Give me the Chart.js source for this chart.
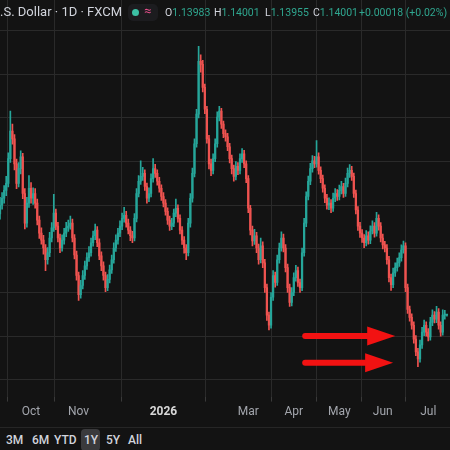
<!DOCTYPE html>
<html>
<head>
<meta charset="utf-8">
<script src="https://cdn.jsdelivr.net/npm/chart.js@4.4.1/dist/chart.umd.min.js"></script>
<style>
  html, body { margin: 0; padding: 0; background: #131313; }
  #wrap { position: relative; width: 450px; height: 450px; overflow: hidden; background: #131313; font-family: Roboto, 'Noto Sans', sans-serif; }
  #box { position: absolute; left: 0; top: 0; width: 450px; height: 427px; }
  #head { position: absolute; left: 0; top: 4px; height: 20px; width: 450px; white-space: nowrap; color: #d1d4dc; }
  #head .t { font-size: 13px; position: absolute; left: 0; top: 0; }
  #head .pill { position: absolute; left: 128px; top: 0px; width: 30px; height: 17px; border-radius: 5px; background: #1c1c1f; }
  #head .dot { position: absolute; left: 132px; top: 5px; width: 7px; height: 7px; border-radius: 50%; background: #3cc0a4; }
  #head .eq { position: absolute; left: 144px; top: -1px; font-size: 13px; color: #e8508c; }
  #head .v { position: absolute; top: 2px; font-size: 10.5px; color: #2fa68f; }
  #head .v b { color: #d1d4dc; font-weight: normal; }
  #sep { position: absolute; left: 0; top: 427px; width: 450px; height: 1px; background: #262626; }
  #btns { position: absolute; left: 0; top: 429px; height: 21px; width: 450px; font-size: 12px; font-weight: 500; color: #d1d4dc; }
  #btns span { position: absolute; top: 4px; }
  #btns .on { position: absolute; left: 81px; top: 0; width: 19px; height: 22px; background: #3a3a3c; border-radius: 4px; }
</style>
</head>
<body>
<div id="wrap">
  <div id="box"><canvas id="chart"></canvas></div>
  <div id="head">
    <span class="t">.S. Dollar · 1D · FXCM</span>
    <span class="pill"></span>
    <span class="dot"></span>
    <span class="eq">≈</span>
    <span class="v" style="left:165px"><b>O</b>1.13983</span>
    <span class="v" style="left:214px"><b>H</b>1.14001</span>
    <span class="v" style="left:265px"><b>L</b>1.13955</span>
    <span class="v" style="left:313px"><b>C</b>1.14001</span>
    <span class="v" style="left:359px">+0.00018 (+0.02%)</span>
  </div>
  <div id="sep"></div>
  <div id="btns">
    <div class="on"></div>
    <span style="left:6px">3M</span>
    <span style="left:32px">6M</span>
    <span style="left:54px">YTD</span>
    <span style="left:84px">1Y</span>
    <span style="left:106px">5Y</span>
    <span style="left:128px">All</span>
  </div>
</div>
<script>
// daily candles, mid Sep -> mid Jul
const opens = [
  1.1630, 1.1650, 1.1666, 1.1684, 1.1700, 1.1757, 1.1820, 1.1802, 1.1745, 1.1700,
  1.1734, 1.1761, 1.1677, 1.1609, 1.1655, 1.1689, 1.1666, 1.1677, 1.1655, 1.1616,
  1.1586, 1.1570, 1.1552, 1.1525, 1.1541, 1.1575, 1.1598, 1.1632, 1.1602, 1.1575,
  1.1552, 1.1570, 1.1586, 1.1598, 1.1602, 1.1609, 1.1575, 1.1536, 1.1489, 1.1445,
  1.1466, 1.1489, 1.1511, 1.1530, 1.1541, 1.1564, 1.1580, 1.1593, 1.1564, 1.1534,
  1.1511, 1.1489, 1.1461, 1.1480, 1.1502, 1.1525, 1.1552, 1.1570, 1.1586, 1.1602,
  1.1620, 1.1627, 1.1609, 1.1593, 1.1580, 1.1575, 1.1620, 1.1677, 1.1705, 1.1716,
  1.1723, 1.1693, 1.1666, 1.1677, 1.1711, 1.1734, 1.1723, 1.1705, 1.1689, 1.1670,
  1.1655, 1.1636, 1.1616, 1.1602, 1.1609, 1.1632, 1.1643, 1.1620, 1.1593, 1.1570,
  1.1552, 1.1541, 1.1609, 1.1666, 1.1723, 1.1791, 1.1859, 1.1980, 1.1973, 1.1920,
  1.1870, 1.1802, 1.1745, 1.1730, 1.1757, 1.1791, 1.1852, 1.1866, 1.1836, 1.1814,
  1.1807, 1.1784, 1.1757, 1.1734, 1.1716, 1.1739, 1.1730, 1.1757, 1.1768, 1.1745,
  1.1711, 1.1643, 1.1593, 1.1568, 1.1580, 1.1552, 1.1525, 1.1557, 1.1518, 1.1461,
  1.1398, 1.1375, 1.1439, 1.1489, 1.1473, 1.1525, 1.1552, 1.1575, 1.1552, 1.1507,
  1.1461, 1.1427, 1.1450, 1.1484, 1.1500, 1.1473, 1.1461, 1.1541, 1.1609, 1.1670,
  1.1705, 1.1734, 1.1752, 1.1745, 1.1761, 1.1730, 1.1711, 1.1689, 1.1666, 1.1650,
  1.1655, 1.1643, 1.1666, 1.1677, 1.1670, 1.1684, 1.1693, 1.1677, 1.1700, 1.1723,
  1.1730, 1.1716, 1.1677, 1.1639, 1.1602, 1.1586, 1.1575, 1.1564, 1.1580, 1.1570,
  1.1591, 1.1602, 1.1586, 1.1620, 1.1602, 1.1575, 1.1559, 1.1552, 1.1525, 1.1484,
  1.1468, 1.1495, 1.1507, 1.1518, 1.1530, 1.1548, 1.1557, 1.1461, 1.1411, 1.1393,
  1.1375, 1.1343, 1.1314, 1.1298, 1.1330, 1.1359, 1.1375, 1.1359, 1.1348, 1.1382,
  1.1398, 1.1389, 1.1405, 1.1375, 1.1359, 1.1398, 1.13983
];
const closes = [
  1.1650, 1.1666, 1.1684, 1.1700, 1.1757, 1.1820, 1.1802, 1.1745, 1.1700, 1.1734,
  1.1761, 1.1677, 1.1609, 1.1655, 1.1689, 1.1666, 1.1677, 1.1655, 1.1616, 1.1586,
  1.1570, 1.1552, 1.1525, 1.1541, 1.1575, 1.1598, 1.1632, 1.1602, 1.1575, 1.1552,
  1.1570, 1.1586, 1.1598, 1.1602, 1.1609, 1.1575, 1.1536, 1.1489, 1.1445, 1.1466,
  1.1489, 1.1511, 1.1530, 1.1541, 1.1564, 1.1580, 1.1593, 1.1564, 1.1534, 1.1511,
  1.1489, 1.1461, 1.1480, 1.1502, 1.1525, 1.1552, 1.1570, 1.1586, 1.1602, 1.1620,
  1.1627, 1.1609, 1.1593, 1.1580, 1.1575, 1.1620, 1.1677, 1.1705, 1.1716, 1.1723,
  1.1693, 1.1666, 1.1677, 1.1711, 1.1734, 1.1723, 1.1705, 1.1689, 1.1670, 1.1655,
  1.1636, 1.1616, 1.1602, 1.1609, 1.1632, 1.1643, 1.1620, 1.1593, 1.1570, 1.1552,
  1.1541, 1.1609, 1.1666, 1.1723, 1.1791, 1.1859, 1.1980, 1.1973, 1.1920, 1.1870,
  1.1802, 1.1745, 1.1730, 1.1757, 1.1791, 1.1852, 1.1866, 1.1836, 1.1814, 1.1807,
  1.1784, 1.1757, 1.1734, 1.1716, 1.1739, 1.1730, 1.1757, 1.1768, 1.1745, 1.1711,
  1.1643, 1.1593, 1.1568, 1.1580, 1.1552, 1.1525, 1.1557, 1.1518, 1.1461, 1.1398,
  1.1375, 1.1439, 1.1489, 1.1473, 1.1525, 1.1552, 1.1575, 1.1552, 1.1507, 1.1461,
  1.1427, 1.1450, 1.1484, 1.1500, 1.1473, 1.1461, 1.1541, 1.1609, 1.1670, 1.1705,
  1.1734, 1.1752, 1.1745, 1.1761, 1.1730, 1.1711, 1.1689, 1.1666, 1.1650, 1.1655,
  1.1643, 1.1666, 1.1677, 1.1670, 1.1684, 1.1693, 1.1677, 1.1700, 1.1723, 1.1730,
  1.1716, 1.1677, 1.1639, 1.1602, 1.1586, 1.1575, 1.1564, 1.1580, 1.1570, 1.1591,
  1.1602, 1.1586, 1.1620, 1.1602, 1.1575, 1.1559, 1.1552, 1.1525, 1.1484, 1.1468,
  1.1495, 1.1507, 1.1518, 1.1530, 1.1548, 1.1557, 1.1461, 1.1411, 1.1393, 1.1375,
  1.1343, 1.1314, 1.1298, 1.1330, 1.1359, 1.1375, 1.1359, 1.1348, 1.1382, 1.1398,
  1.1389, 1.1405, 1.1375, 1.1359, 1.1398, 1.13983, 1.14001
];
const highs = [
  1.1668, 1.1679, 1.1695, 1.1716, 1.1770, 1.1866, 1.1836, 1.1812, 1.1756, 1.1748,
  1.1775, 1.1769, 1.1688, 1.1668, 1.1718, 1.1702, 1.1690, 1.1688, 1.1664, 1.1625,
  1.1598, 1.1581, 1.1560, 1.1553, 1.1588, 1.1610, 1.1675, 1.1641, 1.1611, 1.1584,
  1.1582, 1.1597, 1.1611, 1.1616, 1.1625, 1.1618, 1.1583, 1.1545, 1.1497, 1.1478,
  1.1500, 1.1522, 1.1541, 1.1555, 1.1575, 1.1591, 1.1607, 1.1601, 1.1573, 1.1543,
  1.1520, 1.1497, 1.1491, 1.1513, 1.1536, 1.1564, 1.1582, 1.1597, 1.1614, 1.1632,
  1.1645, 1.1636, 1.1618, 1.1601, 1.1590, 1.1631, 1.1688, 1.1718, 1.1752, 1.1737,
  1.1731, 1.1701, 1.1690, 1.1722, 1.1757, 1.1744, 1.1731, 1.1714, 1.1697, 1.1679,
  1.1663, 1.1644, 1.1625, 1.1620, 1.1641, 1.1664, 1.1651, 1.1628, 1.1601, 1.1578,
  1.1560, 1.1620, 1.1677, 1.1735, 1.1802, 1.1870, 1.2014, 1.1995, 1.1982, 1.1928,
  1.1877, 1.1810, 1.1756, 1.1768, 1.1802, 1.1864, 1.1877, 1.1872, 1.1843, 1.1823,
  1.1815, 1.1792, 1.1765, 1.1742, 1.1750, 1.1748, 1.1768, 1.1780, 1.1776, 1.1752,
  1.1718, 1.1650, 1.1602, 1.1595, 1.1588, 1.1561, 1.1575, 1.1566, 1.1526, 1.1469,
  1.1405, 1.1450, 1.1500, 1.1497, 1.1536, 1.1563, 1.1589, 1.1584, 1.1560, 1.1515,
  1.1469, 1.1461, 1.1495, 1.1512, 1.1508, 1.1481, 1.1552, 1.1620, 1.1681, 1.1717,
  1.1746, 1.1764, 1.1762, 1.1798, 1.1770, 1.1738, 1.1719, 1.1697, 1.1675, 1.1667,
  1.1663, 1.1678, 1.1688, 1.1686, 1.1696, 1.1705, 1.1700, 1.1712, 1.1735, 1.1743,
  1.1739, 1.1724, 1.1685, 1.1647, 1.1611, 1.1594, 1.1583, 1.1592, 1.1589, 1.1603,
  1.1614, 1.1610, 1.1634, 1.1628, 1.1610, 1.1584, 1.1567, 1.1560, 1.1533, 1.1492,
  1.1506, 1.1518, 1.1529, 1.1541, 1.1559, 1.1568, 1.1564, 1.1469, 1.1419, 1.1401,
  1.1383, 1.1351, 1.1322, 1.1341, 1.1370, 1.1387, 1.1383, 1.1367, 1.1393, 1.1410,
  1.1406, 1.1418, 1.1413, 1.1383, 1.1410, 1.1409, 1.14001
];
const lows = [
  1.1618, 1.1641, 1.1655, 1.1672, 1.1692, 1.1748, 1.1790, 1.1731, 1.1688, 1.1692,
  1.1722, 1.1665, 1.1596, 1.1600, 1.1645, 1.1655, 1.1652, 1.1643, 1.1605, 1.1574,
  1.1561, 1.1538, 1.1500, 1.1515, 1.1532, 1.1566, 1.1590, 1.1594, 1.1566, 1.1541,
  1.1545, 1.1561, 1.1578, 1.1590, 1.1595, 1.1566, 1.1527, 1.1478, 1.1432, 1.1437,
  1.1458, 1.1480, 1.1503, 1.1521, 1.1533, 1.1556, 1.1571, 1.1555, 1.1525, 1.1500,
  1.1478, 1.1452, 1.1454, 1.1472, 1.1494, 1.1517, 1.1544, 1.1561, 1.1578, 1.1594,
  1.1611, 1.1600, 1.1584, 1.1569, 1.1564, 1.1568, 1.1612, 1.1669, 1.1698, 1.1707,
  1.1684, 1.1655, 1.1658, 1.1669, 1.1703, 1.1714, 1.1696, 1.1680, 1.1661, 1.1646,
  1.1627, 1.1606, 1.1592, 1.1594, 1.1601, 1.1624, 1.1611, 1.1584, 1.1560, 1.1540,
  1.1525, 1.1534, 1.1600, 1.1657, 1.1715, 1.1783, 1.1850, 1.1955, 1.1910, 1.1860,
  1.1792, 1.1733, 1.1718, 1.1722, 1.1750, 1.1783, 1.1843, 1.1826, 1.1805, 1.1797,
  1.1775, 1.1747, 1.1722, 1.1705, 1.1708, 1.1720, 1.1722, 1.1748, 1.1736, 1.1702,
  1.1633, 1.1582, 1.1557, 1.1560, 1.1541, 1.1515, 1.1518, 1.1507, 1.1450, 1.1386,
  1.1364, 1.1368, 1.1432, 1.1462, 1.1466, 1.1517, 1.1545, 1.1543, 1.1497, 1.1450,
  1.1418, 1.1419, 1.1443, 1.1476, 1.1464, 1.1450, 1.1454, 1.1533, 1.1601, 1.1662,
  1.1697, 1.1726, 1.1736, 1.1737, 1.1721, 1.1702, 1.1680, 1.1656, 1.1641, 1.1640,
  1.1633, 1.1636, 1.1658, 1.1661, 1.1662, 1.1676, 1.1668, 1.1670, 1.1692, 1.1714,
  1.1707, 1.1668, 1.1630, 1.1592, 1.1576, 1.1565, 1.1553, 1.1557, 1.1561, 1.1562,
  1.1584, 1.1577, 1.1579, 1.1593, 1.1566, 1.1550, 1.1543, 1.1515, 1.1474, 1.1455,
  1.1461, 1.1487, 1.1499, 1.1510, 1.1522, 1.1540, 1.1452, 1.1402, 1.1384, 1.1366,
  1.1334, 1.1305, 1.1280, 1.1290, 1.1322, 1.1351, 1.1350, 1.1339, 1.1341, 1.1374,
  1.1380, 1.1381, 1.1366, 1.1350, 1.1352, 1.1389, 1.13955
];

// time axis: first bar of each labelled month
const monthTicks = [15, 38, 79, 120, 142, 164, 185, 207];
const monthLabels = ['Oct', 'Nov', '2026', 'Mar', 'Apr', 'May', 'Jun', 'Jul'];
// horizontal price grid
const priceGrid = [1.125, 1.135, 1.145, 1.155, 1.165, 1.175, 1.185, 1.195, 1.205];
// arrows drawn on the chart (bar index / price)
const arrows = [
  {from: 147.5, to: 191, price: 1.1350},
  {from: 147.5, to: 190, price: 1.1289}
];

const UP = '#26a69a', DOWN = '#ef5350';
const colors = closes.map((c, i) => c >= opens[i] ? UP : DOWN);
const idx = closes.map((c, i) => i);

const arrowPlugin = {
  id: 'arrows',
  afterDatasetsDraw(chart) {
    const {ctx, scales: {x, y}} = chart;
    ctx.save();
    ctx.strokeStyle = '#f21212';
    ctx.fillStyle = '#f21212';
    arrows.forEach(a => {
      const x0 = x.getPixelForValue(a.from), x1 = x.getPixelForValue(a.to), py = y.getPixelForValue(a.price);
      const headLen = 28, headH = 9.5;
      ctx.lineWidth = 6;
      ctx.lineCap = 'round';
      ctx.beginPath();
      ctx.moveTo(x0, py);
      ctx.lineTo(x1 - headLen + 2, py);
      ctx.stroke();
      ctx.beginPath();
      ctx.moveTo(x1, py);
      ctx.lineTo(x1 - headLen, py - headH);
      ctx.lineTo(x1 - headLen, py + headH);
      ctx.closePath();
      ctx.fill();
    });
    ctx.restore();
  }
};

new Chart(document.getElementById('chart'), {
  type: 'bar',
  data: {
    datasets: [{
      label: 'body',
      data: idx.map(i => ({x: i, y: [opens[i], closes[i]]})),
      backgroundColor: colors,
      barThickness: 1.6,
      minBarLength: 1,
      grouped: false,
      borderSkipped: false,
      order: 0
    }, {
      label: 'wick',
      data: idx.map(i => ({x: i, y: [lows[i], highs[i]]})),
      backgroundColor: colors,
      barThickness: 1,
      grouped: false,
      borderSkipped: false,
      order: 1
    }]
  },
  options: {
    responsive: true,
    maintainAspectRatio: false,
    animation: false,
    layout: {padding: {left: 0, right: 0, top: 0, bottom: 5}},
    plugins: {legend: {display: false}, tooltip: {enabled: false}},
    scales: {
      x: {
        type: 'linear',
        min: 0,
        max: 217.5,
        offset: false,
        afterBuildTicks: axis => { axis.ticks = monthTicks.map(v => ({value: v})); },
        grid: {color: '#2a2a2a', tickLength: 5, tickColor: '#3a3a3a'},
        border: {display: false},
        ticks: {
          autoSkip: false,
          maxRotation: 0,
          padding: 3,
          callback: v => monthLabels[monthTicks.indexOf(v)] || '',
          color: ctx => ctx.tick && ctx.tick.value === 79 ? '#d8d8d8' : '#a3a6ad',
          font: ctx => ({family: 'Roboto', size: 12, weight: ctx.tick && ctx.tick.value === 79 ? 'bold' : 'normal'})
        }
      },
      y: {
        min: 1.1211364,
        max: 1.2120455,
        afterBuildTicks: axis => { axis.ticks = priceGrid.map(v => ({value: v})); },
        grid: {color: '#2a2a2a', drawTicks: false},
        border: {display: false},
        ticks: {display: false}
      }
    }
  },
  plugins: [arrowPlugin]
});
</script>
</body>
</html>
